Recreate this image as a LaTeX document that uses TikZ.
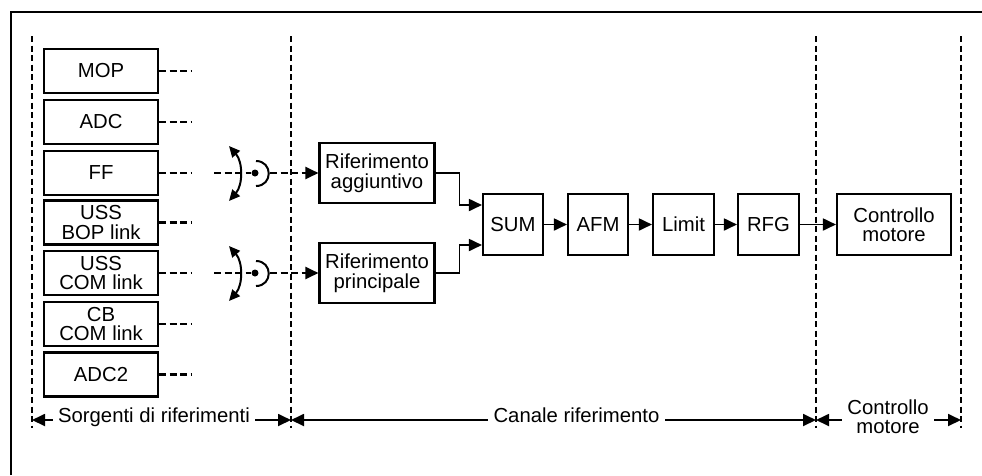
\documentclass[tikz,border=0pt]{standalone}
\usepackage{fontspec}
\setmainfont{Liberation Sans}
\usetikzlibrary{arrows.meta}
\begin{document}
\begin{tikzpicture}[x=1pt,y=-1pt,
  font=\fontsize{20.3}{19.5}\selectfont,
  box/.style={draw,line width=2.1pt,inner sep=0pt,align=center},
  srcbox/.style={box,minimum width=114pt,minimum height=44pt},
  refbox/.style={box,minimum width=115pt,minimum height=60pt},
  chbox/.style={box,minimum width=60pt,minimum height=61pt},
  sep/.style={line width=2.3pt,dash pattern=on 6pt off 3.5pt},
  stub/.style={line width=2.1pt,dash pattern=on 7pt off 3.5pt},
  tip/.style={-{Triangle[length=13pt,width=12pt]}},
  arr/.style={line width=1.8pt,tip},
  dimarr/.style={line width=1.8pt,tip},
  dimlbl/.style={inner ysep=0pt,inner xsep=5pt,align=center},
  dot/.style={circle,fill,inner sep=0pt,minimum size=7pt},
  curv/.style={line width=2pt,{Triangle[length=11pt,width=10pt]}-{Triangle[length=11pt,width=10pt]}}
]
\useasboundingbox (0,0) rectangle (982,475);
% frame (cut off at right and bottom)
\draw[line width=2.5pt] (11,475) -- (11,12) -- (982,12);

% separator lines
\coordinate (v1t) at (32,36);  \coordinate (v1b) at (32,428);
\coordinate (v2t) at (291,36); \coordinate (v2b) at (291,428);
\coordinate (v3t) at (816,36); \coordinate (v3b) at (816,428);
\coordinate (v4t) at (961,36); \coordinate (v4b) at (961,428);
\draw[sep] (v1t) -- (v1b);
\draw[sep] (v2t) -- (v2b);
\draw[sep] (v3t) -- (v3b);
\draw[sep] (v4t) -- (v4b);

% source boxes
\node[srcbox] (mop)  at (101,71)    {MOP};
\node[srcbox] (adc)  at (101,122)   {ADC};
\node[srcbox] (ff)   at (101,173)   {FF};
\node[srcbox] (bop)  at (101,222.5) {USS\\BOP link};
\node[srcbox] (ucom) at (101,273)   {USS\\COM link};
\node[srcbox] (cb)   at (101,324)   {CB\\COM link};
\node[srcbox] (adc2) at (101,374.5) {ADC2};

\foreach \n in {mop,adc,ff,bop,ucom,cb,adc2}
  \draw[stub] (\n.east) -- ++(33,0);

% reference channel
\node[refbox] (ragg)  at (377,173)   {Riferimento\\aggiuntivo};
\node[refbox] (rpri)  at (377,273)   {Riferimento\\principale};
\node[chbox]  (sum)   at (513,224.5) {SUM};
\node[chbox]  (afm)   at (598,224.5) {AFM};
\node[chbox,minimum width=61pt] (lim) at (683.5,224.5) {Limit};
\node[chbox,minimum width=61pt] (rfg) at (768.5,224.5) {RFG};
\node[box,minimum width=114pt,minimum height=61pt] (ctrl) at (894,224.5) {Controllo\\motore};

% switches
\coordinate (s1a) at (214,173);
\node[dot] (p1) at (255,173) {};
\coordinate (s1b) at (270,173);
\draw[stub] (s1a) -- (p1);
\draw[stub,tip] (s1b) -- (ragg.west);
\draw[line width=2pt] (256,161) .. controls (273,161) and (273,186) .. (256,186);
\coordinate (c1t) at (229,146);
\coordinate (c1b) at (229,201);
\draw[curv] (c1t) .. controls (243,162) and (243,185) .. (c1b);

\coordinate (s2a) at (214,273);
\node[dot] (p2) at (255,273) {};
\coordinate (s2b) at (270,273);
\draw[stub] (s2a) -- (p2);
\draw[stub,tip] (s2b) -- (rpri.west);
\draw[line width=2pt] (256,261) .. controls (273,261) and (273,286) .. (256,286);
\coordinate (c2t) at (229,246);
\coordinate (c2b) at (229,301);
\draw[curv] (c2t) .. controls (243,262) and (243,285) .. (c2b);

% connectors
\draw[arr] (ragg.east) -- ++(24,0) |- ([yshift=19.5pt]sum.west);
\draw[arr] (rpri.east) -- ++(24,0) |- ([yshift=-20.5pt]sum.west);
\draw[arr] (sum) -- (afm);
\draw[arr] (afm) -- (lim);
\draw[arr] (lim) -- (rfg);
\draw[arr] (rfg) -- (ctrl);

% dimension labels
\coordinate (dy) at (0,420);
\node[dimlbl,anchor=mid] (dA) at (154,420) {Sorgenti di riferimenti};
\node[dimlbl,anchor=mid,inner xsep=5.5pt] (dB) at (576.5,420) {Canale riferimento};
\node[dimlbl,inner xsep=5.5pt] (dC) at (888,416.5) {Controllo\\motore};
\draw[dimarr] (dA.mid west) -- (dA.mid west -| v1t);
\draw[dimarr] (dA.mid east) -- (dA.mid east -| v2t);
\draw[dimarr] (dB.mid west) -- (dB.mid west -| v2t);
\draw[dimarr] (dB.mid east) -- (dB.mid east -| v3t);
\draw[dimarr] (dC.west |- dy) -- (v3t |- dy);
\draw[dimarr] (dC.east |- dy) -- (v4t |- dy);
\end{tikzpicture}
\end{document}
